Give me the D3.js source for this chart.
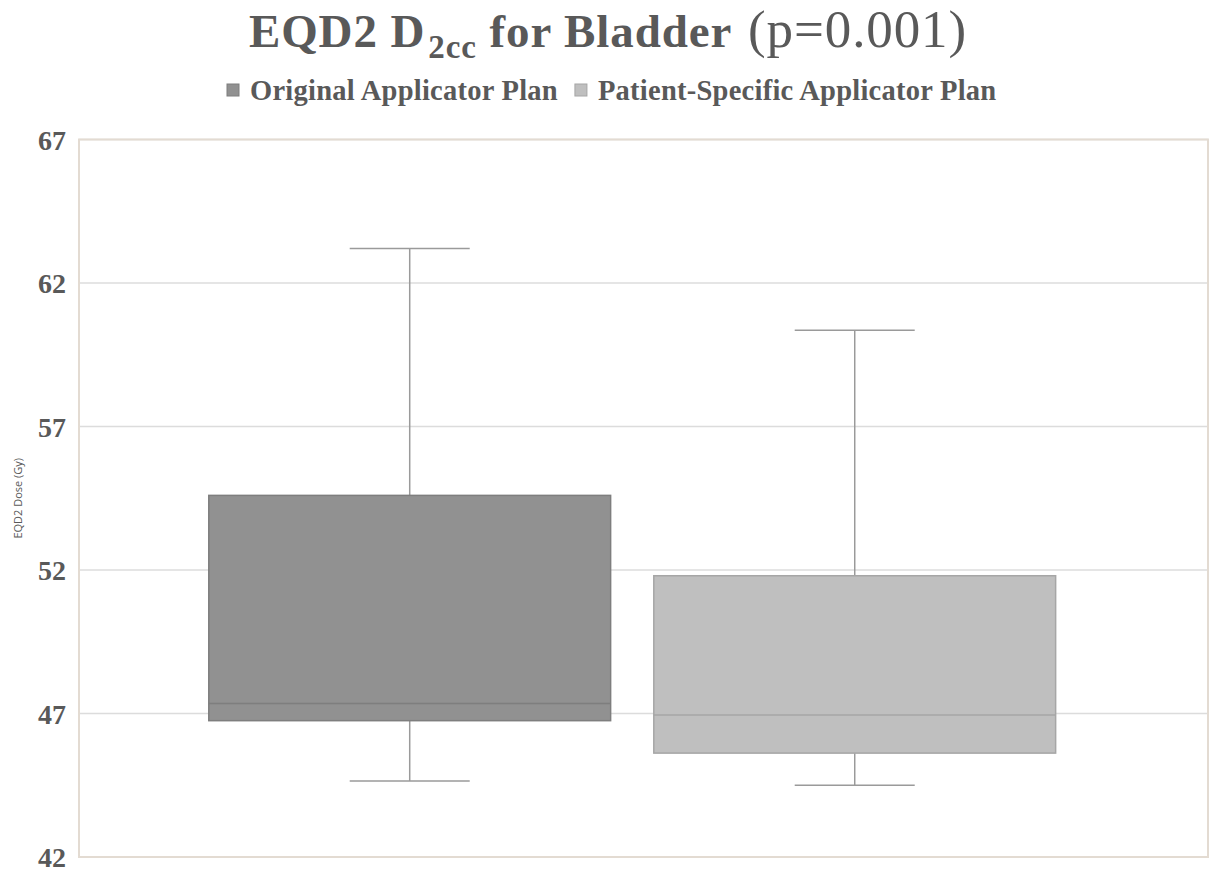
<!DOCTYPE html>
<html>
<head>
<meta charset="utf-8">
<script src="https://cdn.jsdelivr.net/npm/d3@7"></script>
<style>
  body { margin: 0; background: #fff; }
  svg { display: block; }
</style>
</head>
<body>
<div id="chart"></div>
<script>
'use strict';

// box plot stats
const series = ["Original Applicator Plan", "Patient-Specific Applicator Plan"]
const mins = [44.65, 44.5]
const q1s = [46.75, 45.62]
const medians = [47.35, 46.95]
const q3s = [54.6, 51.8]
const maxs = [63.2, 60.35]
const yTicks = [42, 47, 52, 57, 62, 67]
const colors = ["#919191", "#bfbfbf"]
const strokes = ["#7e7e7e", "#a6a6a6"]

const width = 1214, height = 875
const margin = ({ top: 139.5, right: 6, bottom: 18, left: 79 })

const svg = d3.select("#chart").append("svg")
    .attr("width", width)
    .attr("height", height)

const y = d3.scaleLinear()
    .domain([42, 67])
    .range([height - margin.bottom, margin.top])

const x = d3.scaleBand()
    .domain(series)
    .range([margin.left, width - margin.right])
    .paddingInner(0.097)
    .paddingOuter(0.317)
    .align(0.46)

// gridlines
svg.append("g")
    .selectAll("line")
    .data(yTicks.slice(1))
    .join("line")
    .attr("x1", margin.left)
    .attr("x2", width - margin.right)
    .attr("y1", d => y(d))
    .attr("y2", d => y(d))
    .attr("stroke", "#dcdcdc")
    .attr("stroke-width", 1.3)

// plot frame
svg.append("rect")
    .attr("x", margin.left)
    .attr("y", margin.top)
    .attr("width", width - margin.left - margin.right)
    .attr("height", height - margin.top - margin.bottom)
    .attr("fill", "none")
    .attr("stroke", "#e3dbd2")
    .attr("stroke-width", 2)

// y axis
const yAxis = svg.append("g")
    .attr("transform", `translate(${margin.left},0)`)
    .call(d3.axisLeft(y).tickValues(yTicks).tickSize(0).tickPadding(13))
yAxis.select(".domain").remove()
yAxis.selectAll("text")
    .attr("font-family", "'Liberation Serif', 'Times New Roman', serif")
    .attr("font-weight", "bold")
    .attr("font-size", 28)
    .attr("fill", "#595959")
    .attr("dy", "0.35em")

svg.append("text")
    .attr("transform", `translate(22,${(margin.top + height - margin.bottom) / 2}) rotate(-90)`)
    .attr("text-anchor", "middle")
    .attr("font-family", "'Open Sans', 'DejaVu Sans', sans-serif")
    .attr("font-size", 11)
    .attr("fill", "#595959")
    .text("EQD2 Dose (Gy)")

// boxes
const data = series.map((s, i) => ({
    name: s, min: mins[i], q1: q1s[i], median: medians[i], q3: q3s[i], max: maxs[i],
    fill: colors[i], stroke: strokes[i]
}))

const box = svg.append("g")
    .selectAll("g")
    .data(data)
    .join("g")

const cx = d => x(d.name) + x.bandwidth() / 2
const capHalf = 60

// whiskers
box.append("line")
    .attr("x1", cx).attr("x2", cx)
    .attr("y1", d => y(d.max)).attr("y2", d => y(d.q3))
    .attr("stroke", "#9a9a9a").attr("stroke-width", 1.5)
box.append("line")
    .attr("x1", cx).attr("x2", cx)
    .attr("y1", d => y(d.q1)).attr("y2", d => y(d.min))
    .attr("stroke", "#9a9a9a").attr("stroke-width", 1.5)
box.append("line")
    .attr("x1", d => cx(d) - capHalf).attr("x2", d => cx(d) + capHalf)
    .attr("y1", d => y(d.max)).attr("y2", d => y(d.max))
    .attr("stroke", "#9a9a9a").attr("stroke-width", 1.5)
box.append("line")
    .attr("x1", d => cx(d) - capHalf).attr("x2", d => cx(d) + capHalf)
    .attr("y1", d => y(d.min)).attr("y2", d => y(d.min))
    .attr("stroke", "#9a9a9a").attr("stroke-width", 1.5)

box.append("rect")
    .attr("x", d => x(d.name))
    .attr("width", x.bandwidth())
    .attr("y", d => y(d.q3))
    .attr("height", d => y(d.q1) - y(d.q3))
    .attr("fill", d => d.fill)
    .attr("stroke", d => d.stroke)
    .attr("stroke-width", 1.5)

box.append("line")
    .attr("x1", d => x(d.name)).attr("x2", d => x(d.name) + x.bandwidth())
    .attr("y1", d => y(d.median)).attr("y2", d => y(d.median))
    .attr("stroke", d => d.stroke).attr("stroke-width", 1.5)

// title
const title = svg.append("text")
    .attr("x", 608)
    .attr("y", 47)
    .attr("text-anchor", "middle")
    .attr("font-family", "'Liberation Serif', 'Times New Roman', serif")
    .attr("font-size", 47)
    .attr("letter-spacing", 0.9)
    .attr("fill", "#595959")
title.append("tspan").attr("font-weight", "bold").text("EQD2 D")
title.append("tspan").attr("font-weight", "bold").attr("font-size", 33).attr("dx", 3).attr("dy", 11).text("2cc")
title.append("tspan").attr("font-weight", "bold").attr("dy", -11).text(" for Bladder ")
title.append("tspan").attr("font-size", 53).attr("dx", 4).text("(p=0.001)")

// legend
const legend = svg.append("g")
    .attr("font-family", "'Liberation Serif', 'Times New Roman', serif")
    .attr("font-weight", "bold")
    .attr("font-size", 28.5)
    .attr("letter-spacing", 0.25)
    .attr("fill", "#595959")

let lx = 227
series.forEach((s, i) => {
    legend.append("rect")
        .attr("x", lx).attr("y", 84)
        .attr("width", 12).attr("height", 12)
        .attr("fill", colors[i]).attr("stroke", strokes[i])
    const t = legend.append("text")
        .attr("x", lx + 23).attr("y", 100)
        .text(s)
    lx += 23 + t.node().getComputedTextLength() + 17
})
</script>
</body>
</html>
